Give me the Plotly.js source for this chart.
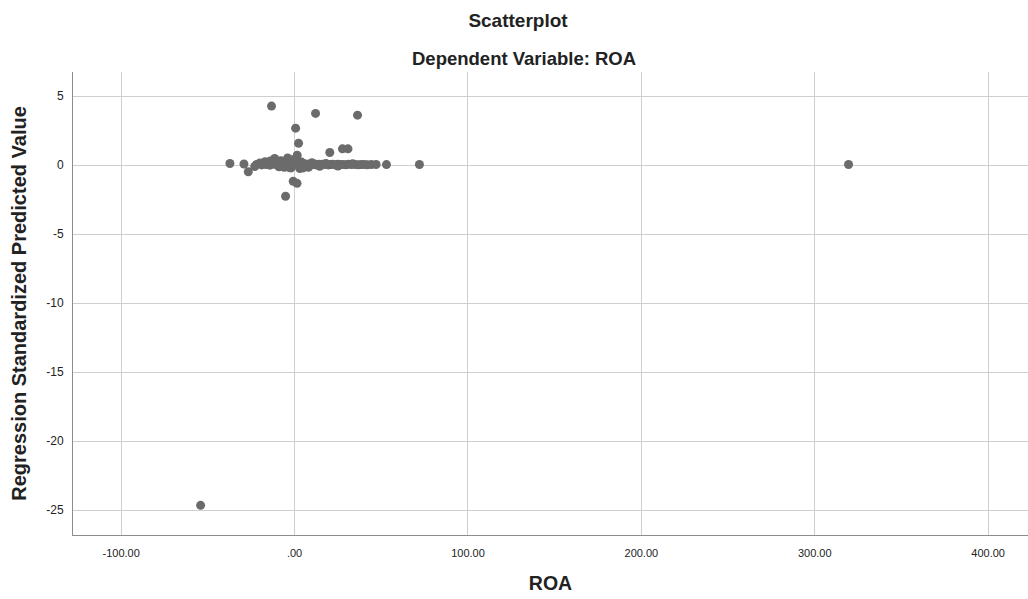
<!DOCTYPE html>
<html>
<head>
<meta charset="utf-8">
<script src="https://cdn.plot.ly/plotly-3.0.1.min.js"></script>
<style>html,body{margin:0;padding:0;background:#fff;}#chart{width:1028px;height:599px;}</style>
</head>
<body>
<div id="chart"></div>
<script>
// ROA values (x) and regression standardized predicted values (y)
const roa = [
  319.5, -54.2, -13.3, 12.1, 36.3, 0.6, 2.3, 20.3, 27.6, 30.8, -0.8, 1.4, -5.2,
  -37.3, -29.2, -26.7, -22.0, -20.5, -19.0, -18.0, -16.5, -15.0, -14.2, -12.0,
  -11.5, -10.3, -9.5, -8.4, -7.6, -6.8, -5.5, -4.0, -3.2, -2.5, -1.8, -1.0,
  -0.5, 0.2, 0.9, 1.5, 2.0, 2.8, 3.5, 4.2, 5.0, 5.8, 6.5, 7.3, 8.1, 9.0, 9.8,
  10.6, 11.5, 12.3, 13.2, 14.0, 15.1, 16.0, 17.2, 18.3, 19.5, 20.8, 22.0, 23.4,
  24.9, 26.3, 28.0, 29.5, 31.0, 32.8, 35.0, 36.8, 38.5, 40.2, 42.0, 44.3, 47.0,
  53.0, 72.0,
  -11.5, -4.0, 1.5, -20.0, -17.0, -8.0, 0.0, 2.0, -2.0, -6.0, 3.0, 5.0, 8.0,
  -23.0, -14.0, -9.0, -3.0, 4.0, 6.0, 10.0, 14.5, 18.0, 25.0, 33.5, -1.5, -7.0
];
const pred = [
  0.05, -24.65, 4.28, 3.75, 3.62, 2.68, 1.59, 0.92, 1.18, 1.18, -1.17, -1.32, -2.25,
  0.12, 0.08, -0.48, 0.05, 0.10, 0.02, 0.12, 0.05, 0.15, 0.00, 0.08,
  0.10, 0.02, 0.12, -0.05, 0.08, 0.15, 0.02, 0.10, 0.18, -0.02, 0.08, 0.12,
  0.05, 0.10, 0.02, 0.06, 0.12, 0.00, 0.08, 0.04, 0.06, 0.10, 0.02, 0.07, 0.05, 0.09, 0.03,
  0.06, 0.08, 0.02, 0.05, 0.07, 0.03, 0.06, 0.04, 0.08, 0.02, 0.05, 0.06, 0.03,
  0.07, 0.04, 0.05, 0.03, 0.06, 0.04, 0.05, 0.03, 0.04, 0.05, 0.03, 0.04, 0.05,
  0.04, 0.05,
  0.48, 0.52, 0.72, 0.15, 0.25, 0.32, 0.35, 0.30, -0.20, -0.15, -0.25, -0.20, -0.15,
  -0.10, 0.30, -0.12, -0.18, 0.22, -0.10, 0.18, -0.08, 0.12, -0.06, 0.10, 0.40, 0.28
];
const xTickVals = [-100, 0, 100, 200, 300, 400];
const xTickText = ['-100.00', '.00', '100.00', '200.00', '300.00', '400.00'];
const yTickVals = [5, 0, -5, -10, -15, -20, -25];
const yTickText = ['5', '0', '-5', '-10', '-15', '-20', '-25'];

const trace = {
  x: roa, y: pred, type: 'scatter', mode: 'markers',
  marker: {color: '#6b6b6b', size: 9, line: {width: 0}},
  hoverinfo: 'x+y'
};

const FONT = 'Liberation Sans, Arial, sans-serif';

const layout = {
  width: 1028, height: 599,
  paper_bgcolor: '#ffffff', plot_bgcolor: '#ffffff',
  margin: {l: 73, r: 0, t: 72, b: 64},
  font: {family: FONT, color: '#222222'},
  showlegend: false,
  title: {
    text: 'Scatterplot',
    font: {size: 19, family: FONT, weight: 'bold', color: '#222222'},
    xref: 'container', x: 518 / 1028, xanchor: 'center',
    yref: 'container', y: 1 - 20/599, yanchor: 'middle'
  },
  annotations: [{
    text: 'Dependent Variable: ROA', showarrow: false,
    xref: 'paper', x: (524 - 73) / 955, xanchor: 'center',
    yref: 'paper', y: 1 + (72 - 58) / 463, yanchor: 'middle',
    font: {size: 18.5, family: FONT, weight: 'bold', color: '#222222'}
  }],
  xaxis: {
    range: [-127.8, 423],
    tickvals: xTickVals, ticktext: xTickText,
    tickfont: {size: 11, color: '#222222'},
    showgrid: true, gridcolor: '#cfcfcf', gridwidth: 1,
    showline: true, linecolor: '#8c8c8c', linewidth: 1,
    zeroline: false, ticks: '', ticklabelstandoff: 8,
    title: {text: 'ROA', font: {size: 19.5, weight: 'bold', color: '#222222'}, standoff: 18}
  },
  yaxis: {
    range: [-26.8, 6.75],
    tickvals: yTickVals, ticktext: yTickText,
    tickfont: {size: 12, color: '#222222'},
    showgrid: true, gridcolor: '#cfcfcf', gridwidth: 1,
    showline: true, linecolor: '#8c8c8c', linewidth: 1,
    zeroline: false, ticks: '', ticklabelstandoff: 6,
    title: {text: 'Regression Standardized Predicted Value', font: {size: 20, weight: 'bold', color: '#222222'}, standoff: 14}
  }
};

Plotly.newPlot('chart', [trace], layout, {displayModeBar: false, staticPlot: true});
</script>
</body>
</html>
